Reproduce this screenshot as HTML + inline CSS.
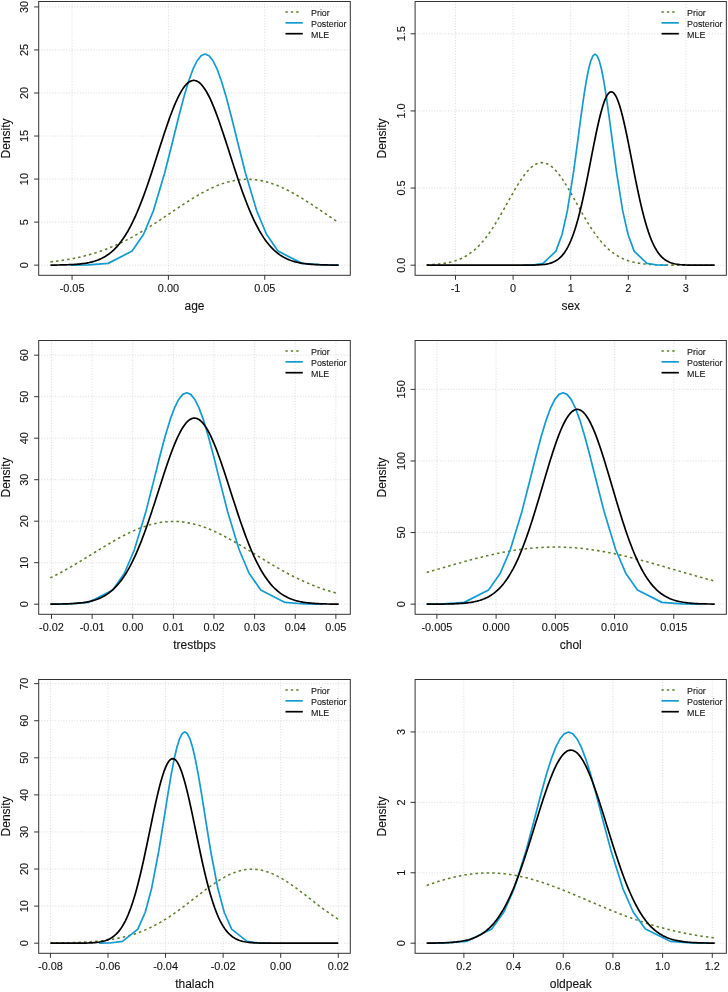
<!DOCTYPE html>
<html><head><meta charset="utf-8"><title>Densities</title><style>
html,body{margin:0;padding:0;background:#fff;overflow:hidden;}
svg{display:block;will-change:transform;}
text{font-family:"Liberation Sans",sans-serif;fill:#111;stroke:#111;stroke-width:0.1px;}
.tl{font-size:10.9px;}
.al{font-size:12.0px;}
.lg{font-size:8.9px;stroke-width:0.08px;}
.gr{stroke:#d3d3d3;stroke-width:0.9;stroke-dasharray:0.9 1.85;fill:none;}
.bx{stroke:#333333;stroke-width:1;fill:none;}
.tk{stroke:#333333;stroke-width:1;}
.pr{stroke:#5f7e2a;stroke-width:1.55;fill:none;stroke-dasharray:2.5 3.1;}
.po{stroke:#129bd2;stroke-width:1.7;fill:none;stroke-linejoin:round;}
.ml{stroke:#000000;stroke-width:1.7;fill:none;stroke-linejoin:round;}
.lpr{stroke:#5f7e2a;stroke-width:1.5;}
.lpo{stroke:#129bd2;stroke-width:1.7;}
.lml{stroke:#000000;stroke-width:1.7;}
</style></head>
<body><svg width="728" height="992" viewBox="0 0 728 992"><rect width="728" height="992" fill="#fff"/><g><line x1="72.05" y1="1.5" x2="72.05" y2="275.3" class="gr"/><line x1="168.4" y1="1.5" x2="168.4" y2="275.3" class="gr"/><line x1="264.75" y1="1.5" x2="264.75" y2="275.3" class="gr"/><line x1="38.7" y1="265.15" x2="350.3" y2="265.15" class="gr"/><line x1="38.7" y1="222.11" x2="350.3" y2="222.11" class="gr"/><line x1="38.7" y1="179.07" x2="350.3" y2="179.07" class="gr"/><line x1="38.7" y1="136.03" x2="350.3" y2="136.03" class="gr"/><line x1="38.7" y1="92.99" x2="350.3" y2="92.99" class="gr"/><line x1="38.7" y1="49.95" x2="350.3" y2="49.95" class="gr"/><line x1="38.7" y1="6.91" x2="350.3" y2="6.91" class="gr"/><path d="M50.47,261.87 L51.91,261.71 L53.35,261.54 L54.79,261.37 L56.23,261.19 L57.67,261 L59.11,260.81 L60.55,260.6 L61.99,260.39 L63.43,260.18 L64.87,259.95 L66.31,259.72 L67.75,259.47 L69.19,259.22 L70.63,258.96 L72.07,258.69 L73.51,258.41 L74.95,258.12 L76.4,257.82 L77.84,257.51 L79.28,257.2 L80.72,256.87 L82.16,256.53 L83.6,256.18 L85.04,255.81 L86.48,255.44 L87.92,255.06 L89.36,254.66 L90.8,254.25 L92.24,253.83 L93.68,253.4 L95.12,252.96 L96.56,252.5 L98,252.03 L99.44,251.55 L100.88,251.05 L102.32,250.55 L103.76,250.03 L105.2,249.49 L106.64,248.95 L108.08,248.39 L109.53,247.82 L110.97,247.23 L112.41,246.63 L113.85,246.02 L115.29,245.39 L116.73,244.75 L118.17,244.1 L119.61,243.43 L121.05,242.75 L122.49,242.06 L123.93,241.35 L125.37,240.63 L126.81,239.9 L128.25,239.16 L129.69,238.4 L131.13,237.63 L132.57,236.85 L134.01,236.06 L135.45,235.25 L136.89,234.43 L138.33,233.6 L139.77,232.76 L141.21,231.91 L142.66,231.05 L144.1,230.18 L145.54,229.3 L146.98,228.41 L148.42,227.51 L149.86,226.61 L151.3,225.69 L152.74,224.77 L154.18,223.84 L155.62,222.9 L157.06,221.96 L158.5,221.01 L159.94,220.05 L161.38,219.1 L162.82,218.13 L164.26,217.17 L165.7,216.2 L167.14,215.23 L168.58,214.26 L170.02,213.28 L171.46,212.31 L172.9,211.34 L174.34,210.37 L175.79,209.4 L177.23,208.43 L178.67,207.47 L180.11,206.51 L181.55,205.55 L182.99,204.6 L184.43,203.66 L185.87,202.73 L187.31,201.8 L188.75,200.88 L190.19,199.97 L191.63,199.07 L193.07,198.19 L194.51,197.31 L195.95,196.45 L197.39,195.6 L198.83,194.76 L200.27,193.94 L201.71,193.13 L203.15,192.34 L204.59,191.57 L206.03,190.82 L207.47,190.08 L208.92,189.36 L210.36,188.66 L211.8,187.99 L213.24,187.33 L214.68,186.7 L216.12,186.09 L217.56,185.5 L219,184.94 L220.44,184.39 L221.88,183.88 L223.32,183.39 L224.76,182.92 L226.2,182.49 L227.64,182.07 L229.08,181.69 L230.52,181.33 L231.96,181 L233.4,180.7 L234.84,180.43 L236.28,180.19 L237.72,179.97 L239.16,179.79 L240.6,179.63 L242.05,179.51 L243.49,179.41 L244.93,179.34 L246.37,179.31 L247.81,179.3 L249.25,179.32 L250.69,179.38 L252.13,179.46 L253.57,179.57 L255.01,179.71 L256.45,179.89 L257.89,180.09 L259.33,180.32 L260.77,180.58 L262.21,180.87 L263.65,181.18 L265.09,181.53 L266.53,181.9 L267.97,182.3 L269.41,182.73 L270.85,183.18 L272.29,183.66 L273.73,184.16 L275.18,184.69 L276.62,185.25 L278.06,185.82 L279.5,186.42 L280.94,187.05 L282.38,187.69 L283.82,188.36 L285.26,189.05 L286.7,189.76 L288.14,190.49 L289.58,191.23 L291.02,192 L292.46,192.78 L293.9,193.58 L295.34,194.39 L296.78,195.22 L298.22,196.07 L299.66,196.92 L301.1,197.79 L302.54,198.68 L303.98,199.57 L305.42,200.48 L306.86,201.39 L308.31,202.31 L309.75,203.25 L311.19,204.18 L312.63,205.13 L314.07,206.08 L315.51,207.04 L316.95,208 L318.39,208.97 L319.83,209.93 L321.27,210.91 L322.71,211.88 L324.15,212.85 L325.59,213.82 L327.03,214.8 L328.47,215.77 L329.91,216.74 L331.35,217.7 L332.79,218.67 L334.23,219.63 L335.67,220.58 L337.11,221.54 L338.55,222.48" class="pr"/><path d="M71.34,265.13 L88.45,264.94 L108.17,263.37 L132.12,251.05 L143.6,234.23 L153.48,210.58 L164.87,172.3 L172.56,141.79 L178.66,117.03 L183.9,97.02 L188.61,81.2 L192.97,69.18 L197.11,60.75 L201.11,55.74 L205.05,54.08 L208.99,55.74 L212.99,60.75 L217.13,69.18 L221.49,81.2 L226.2,97.02 L231.44,117.03 L237.55,141.79 L245.23,172.3 L256.62,210.58 L266.5,234.23 L277.99,251.05 L301.94,263.37 L321.65,264.94 L338.77,265.13" class="po"/><path d="M50.47,265.09 L51.91,265.08 L53.35,265.06 L54.79,265.05 L56.23,265.03 L57.67,265.01 L59.11,264.99 L60.55,264.97 L61.99,264.94 L63.43,264.9 L64.87,264.86 L66.31,264.82 L67.75,264.77 L69.19,264.71 L70.63,264.65 L72.07,264.57 L73.51,264.49 L74.95,264.39 L76.4,264.29 L77.84,264.17 L79.28,264.03 L80.72,263.88 L82.16,263.71 L83.6,263.52 L85.04,263.3 L86.48,263.07 L87.92,262.8 L89.36,262.51 L90.8,262.18 L92.24,261.82 L93.68,261.42 L95.12,260.98 L96.56,260.5 L98,259.96 L99.44,259.38 L100.88,258.74 L102.32,258.04 L103.76,257.28 L105.2,256.45 L106.64,255.55 L108.08,254.57 L109.53,253.51 L110.97,252.37 L112.41,251.13 L113.85,249.81 L115.29,248.38 L116.73,246.85 L118.17,245.21 L119.61,243.47 L121.05,241.6 L122.49,239.62 L123.93,237.52 L125.37,235.29 L126.81,232.93 L128.25,230.45 L129.69,227.83 L131.13,225.08 L132.57,222.19 L134.01,219.18 L135.45,216.03 L136.89,212.75 L138.33,209.34 L139.77,205.8 L141.21,202.15 L142.66,198.37 L144.1,194.49 L145.54,190.5 L146.98,186.41 L148.42,182.23 L149.86,177.97 L151.3,173.64 L152.74,169.26 L154.18,164.82 L155.62,160.34 L157.06,155.85 L158.5,151.34 L159.94,146.85 L161.38,142.37 L162.82,137.93 L164.26,133.54 L165.7,129.22 L167.14,124.98 L168.58,120.85 L170.02,116.83 L171.46,112.95 L172.9,109.22 L174.34,105.65 L175.79,102.27 L177.23,99.09 L178.67,96.11 L180.11,93.36 L181.55,90.85 L182.99,88.59 L184.43,86.58 L185.87,84.85 L187.31,83.39 L188.75,82.22 L190.19,81.34 L191.63,80.75 L193.07,80.46 L194.51,80.46 L195.95,80.77 L197.39,81.37 L198.83,82.26 L200.27,83.45 L201.71,84.92 L203.15,86.67 L204.59,88.68 L206.03,90.95 L207.47,93.48 L208.92,96.24 L210.36,99.22 L211.8,102.41 L213.24,105.8 L214.68,109.38 L216.12,113.11 L217.56,117 L219,121.02 L220.44,125.16 L221.88,129.4 L223.32,133.73 L224.76,138.12 L226.2,142.56 L227.64,147.04 L229.08,151.54 L230.52,156.04 L231.96,160.54 L233.4,165.01 L234.84,169.45 L236.28,173.83 L237.72,178.16 L239.16,182.42 L240.6,186.59 L242.05,190.67 L243.49,194.66 L244.93,198.54 L246.37,202.31 L247.81,205.96 L249.25,209.49 L250.69,212.89 L252.13,216.17 L253.57,219.31 L255.01,222.32 L256.45,225.2 L257.89,227.94 L259.33,230.56 L260.77,233.04 L262.21,235.39 L263.65,237.61 L265.09,239.71 L266.53,241.69 L267.97,243.54 L269.41,245.29 L270.85,246.92 L272.29,248.44 L273.73,249.87 L275.18,251.19 L276.62,252.42 L278.06,253.56 L279.5,254.61 L280.94,255.59 L282.38,256.49 L283.82,257.31 L285.26,258.07 L286.7,258.77 L288.14,259.41 L289.58,259.99 L291.02,260.52 L292.46,261 L293.9,261.44 L295.34,261.84 L296.78,262.19 L298.22,262.52 L299.66,262.81 L301.1,263.08 L302.54,263.31 L303.98,263.53 L305.42,263.72 L306.86,263.89 L308.31,264.04 L309.75,264.17 L311.19,264.29 L312.63,264.4 L314.07,264.49 L315.51,264.58 L316.95,264.65 L318.39,264.72 L319.83,264.77 L321.27,264.82 L322.71,264.87 L324.15,264.9 L325.59,264.94 L327.03,264.97 L328.47,264.99 L329.91,265.02 L331.35,265.03 L332.79,265.05 L334.23,265.07 L335.67,265.08 L337.11,265.09 L338.55,265.1" class="ml"/><rect x="38.7" y="1.5" width="311.6" height="273.8" class="bx"/><line x1="72.05" y1="275.3" x2="72.05" y2="279.8" class="tk"/><text x="72.05" y="291.9" class="tl" text-anchor="middle">-0.05</text><line x1="168.4" y1="275.3" x2="168.4" y2="279.8" class="tk"/><text x="168.4" y="291.9" class="tl" text-anchor="middle">0.00</text><line x1="264.75" y1="275.3" x2="264.75" y2="279.8" class="tk"/><text x="264.75" y="291.9" class="tl" text-anchor="middle">0.05</text><line x1="34.2" y1="265.15" x2="38.7" y2="265.15" class="tk"/><text transform="translate(28.1,265.15) rotate(-90)" class="tl" text-anchor="middle">0</text><line x1="34.2" y1="222.11" x2="38.7" y2="222.11" class="tk"/><text transform="translate(28.1,222.11) rotate(-90)" class="tl" text-anchor="middle">5</text><line x1="34.2" y1="179.07" x2="38.7" y2="179.07" class="tk"/><text transform="translate(28.1,179.07) rotate(-90)" class="tl" text-anchor="middle">10</text><line x1="34.2" y1="136.03" x2="38.7" y2="136.03" class="tk"/><text transform="translate(28.1,136.03) rotate(-90)" class="tl" text-anchor="middle">15</text><line x1="34.2" y1="92.99" x2="38.7" y2="92.99" class="tk"/><text transform="translate(28.1,92.99) rotate(-90)" class="tl" text-anchor="middle">20</text><line x1="34.2" y1="49.95" x2="38.7" y2="49.95" class="tk"/><text transform="translate(28.1,49.95) rotate(-90)" class="tl" text-anchor="middle">25</text><line x1="34.2" y1="6.91" x2="38.7" y2="6.91" class="tk"/><text transform="translate(28.1,6.91) rotate(-90)" class="tl" text-anchor="middle">30</text><text x="194.5" y="309.8" class="al" text-anchor="middle">age</text><text transform="translate(9.8,138.4) rotate(-90)" class="al" text-anchor="middle">Density</text><line x1="285.4" y1="12" x2="287.8" y2="12" class="lpr"/><line x1="290.8" y1="12" x2="293.2" y2="12" class="lpr"/><line x1="296.2" y1="12" x2="298.6" y2="12" class="lpr"/><text x="311" y="15.9" class="lg">Prior</text><line x1="285.5" y1="22.85" x2="302.8" y2="22.85" class="lpo"/><text x="311" y="26.8" class="lg">Posterior</text><line x1="285.5" y1="33.7" x2="302.8" y2="33.7" class="lml"/><text x="311" y="37.7" class="lg">MLE</text></g><g><line x1="455.5" y1="1.5" x2="455.5" y2="275.3" class="gr"/><line x1="513.1" y1="1.5" x2="513.1" y2="275.3" class="gr"/><line x1="570.7" y1="1.5" x2="570.7" y2="275.3" class="gr"/><line x1="628.3" y1="1.5" x2="628.3" y2="275.3" class="gr"/><line x1="685.9" y1="1.5" x2="685.9" y2="275.3" class="gr"/><line x1="415.1" y1="265.2" x2="726.35" y2="265.2" class="gr"/><line x1="415.1" y1="188.06" x2="726.35" y2="188.06" class="gr"/><line x1="415.1" y1="110.93" x2="726.35" y2="110.93" class="gr"/><line x1="415.1" y1="33.79" x2="726.35" y2="33.79" class="gr"/><path d="M426.7,264.8 L428.14,264.74 L429.58,264.68 L431.02,264.6 L432.46,264.52 L433.9,264.42 L435.34,264.32 L436.78,264.2 L438.22,264.06 L439.66,263.91 L441.1,263.74 L442.54,263.55 L443.98,263.35 L445.42,263.12 L446.86,262.86 L448.3,262.58 L449.74,262.27 L451.18,261.93 L452.62,261.55 L454.06,261.14 L455.5,260.69 L456.94,260.2 L458.38,259.67 L459.82,259.09 L461.26,258.46 L462.7,257.78 L464.14,257.04 L465.58,256.24 L467.02,255.39 L468.46,254.47 L469.9,253.49 L471.34,252.44 L472.78,251.32 L474.22,250.12 L475.66,248.86 L477.1,247.51 L478.54,246.09 L479.98,244.59 L481.42,243.02 L482.86,241.36 L484.3,239.62 L485.74,237.81 L487.18,235.91 L488.62,233.94 L490.06,231.9 L491.5,229.78 L492.94,227.6 L494.38,225.34 L495.82,223.03 L497.26,220.66 L498.7,218.24 L500.14,215.77 L501.58,213.26 L503.02,210.72 L504.46,208.16 L505.9,205.58 L507.34,202.99 L508.78,200.39 L510.22,197.81 L511.66,195.25 L513.1,192.72 L514.54,190.22 L515.98,187.77 L517.42,185.38 L518.86,183.06 L520.3,180.82 L521.74,178.67 L523.18,176.62 L524.62,174.68 L526.06,172.85 L527.5,171.15 L528.94,169.59 L530.38,168.17 L531.82,166.9 L533.26,165.78 L534.7,164.83 L536.14,164.04 L537.58,163.42 L539.02,162.98 L540.46,162.71 L541.9,162.63 L543.34,162.71 L544.78,162.98 L546.22,163.42 L547.66,164.04 L549.1,164.83 L550.54,165.78 L551.98,166.9 L553.42,168.17 L554.86,169.59 L556.3,171.15 L557.74,172.85 L559.18,174.68 L560.62,176.62 L562.06,178.67 L563.5,180.82 L564.94,183.06 L566.38,185.38 L567.82,187.77 L569.26,190.22 L570.7,192.72 L572.14,195.25 L573.58,197.81 L575.02,200.39 L576.46,202.99 L577.9,205.58 L579.34,208.16 L580.78,210.72 L582.22,213.26 L583.66,215.77 L585.1,218.24 L586.54,220.66 L587.98,223.03 L589.42,225.34 L590.86,227.6 L592.3,229.78 L593.74,231.9 L595.18,233.94 L596.62,235.91 L598.06,237.81 L599.5,239.62 L600.94,241.36 L602.38,243.02 L603.82,244.59 L605.26,246.09 L606.7,247.51 L608.14,248.86 L609.58,250.12 L611.02,251.32 L612.46,252.44 L613.9,253.49 L615.34,254.47 L616.78,255.39 L618.22,256.24 L619.66,257.04 L621.1,257.78 L622.54,258.46 L623.98,259.09 L625.42,259.67 L626.86,260.2 L628.3,260.69 L629.74,261.14 L631.18,261.55 L632.62,261.93 L634.06,262.27 L635.5,262.58 L636.94,262.86 L638.38,263.12 L639.82,263.35 L641.26,263.55 L642.7,263.74 L644.14,263.91 L645.58,264.06 L647.02,264.2 L648.46,264.32 L649.9,264.42 L651.34,264.52 L652.78,264.6 L654.22,264.68 L655.66,264.74 L657.1,264.8 L658.54,264.86 L659.98,264.9 L661.42,264.94 L662.86,264.98 L664.3,265.01 L665.74,265.03 L667.18,265.06 L668.62,265.08 L670.06,265.09 L671.5,265.11 L672.94,265.12 L674.38,265.13 L675.82,265.14 L677.26,265.15 L678.7,265.16 L680.14,265.17 L681.58,265.17 L683.02,265.18 L684.46,265.18 L685.9,265.18 L687.34,265.19 L688.78,265.19 L690.22,265.19 L691.66,265.19 L693.1,265.19 L694.54,265.19 L695.98,265.2 L697.42,265.2 L698.86,265.2 L700.3,265.2 L701.74,265.2 L703.18,265.2 L704.62,265.2 L706.06,265.2 L707.5,265.2 L708.94,265.2 L710.38,265.2 L711.82,265.2 L713.26,265.2 L714.7,265.2" class="pr"/><path d="M523.38,265.18 L532.55,264.99 L543.12,263.42 L555.95,251.1 L562.1,234.29 L567.4,210.65 L573.5,172.37 L577.62,141.87 L580.89,117.12 L583.7,97.12 L586.22,81.29 L588.56,69.28 L590.77,60.85 L592.92,55.84 L595.03,54.18 L597.14,55.84 L599.29,60.85 L601.5,69.28 L603.84,81.29 L606.36,97.12 L609.17,117.12 L612.44,141.87 L616.56,172.37 L622.66,210.65 L627.96,234.29 L634.11,251.1 L646.94,263.42 L657.51,264.99 L666.68,265.18" class="po"/><path d="M426.7,265.2 L428.14,265.2 L429.58,265.2 L431.02,265.2 L432.46,265.2 L433.9,265.2 L435.34,265.2 L436.78,265.2 L438.22,265.2 L439.66,265.2 L441.1,265.2 L442.54,265.2 L443.98,265.2 L445.42,265.2 L446.86,265.2 L448.3,265.2 L449.74,265.2 L451.18,265.2 L452.62,265.2 L454.06,265.2 L455.5,265.2 L456.94,265.2 L458.38,265.2 L459.82,265.2 L461.26,265.2 L462.7,265.2 L464.14,265.2 L465.58,265.2 L467.02,265.2 L468.46,265.2 L469.9,265.2 L471.34,265.2 L472.78,265.2 L474.22,265.2 L475.66,265.2 L477.1,265.2 L478.54,265.2 L479.98,265.2 L481.42,265.2 L482.86,265.2 L484.3,265.2 L485.74,265.2 L487.18,265.2 L488.62,265.2 L490.06,265.2 L491.5,265.2 L492.94,265.2 L494.38,265.2 L495.82,265.2 L497.26,265.2 L498.7,265.2 L500.14,265.2 L501.58,265.2 L503.02,265.2 L504.46,265.2 L505.9,265.2 L507.34,265.2 L508.78,265.2 L510.22,265.2 L511.66,265.2 L513.1,265.2 L514.54,265.2 L515.98,265.2 L517.42,265.2 L518.86,265.19 L520.3,265.19 L521.74,265.19 L523.18,265.18 L524.62,265.18 L526.06,265.17 L527.5,265.16 L528.94,265.15 L530.38,265.13 L531.82,265.11 L533.26,265.08 L534.7,265.04 L536.14,265 L537.58,264.94 L539.02,264.86 L540.46,264.77 L541.9,264.65 L543.34,264.51 L544.78,264.33 L546.22,264.1 L547.66,263.83 L549.1,263.5 L550.54,263.1 L551.98,262.62 L553.42,262.04 L554.86,261.35 L556.3,260.54 L557.74,259.58 L559.18,258.45 L560.62,257.15 L562.06,255.64 L563.5,253.9 L564.94,251.91 L566.38,249.64 L567.82,247.08 L569.26,244.21 L570.7,241 L572.14,237.44 L573.58,233.51 L575.02,229.2 L576.46,224.51 L577.9,219.44 L579.34,213.99 L580.78,208.18 L582.22,202.02 L583.66,195.54 L585.1,188.77 L586.54,181.77 L587.98,174.57 L589.42,167.24 L590.86,159.84 L592.3,152.44 L593.74,145.12 L595.18,137.96 L596.62,131.04 L598.06,124.45 L599.5,118.26 L600.94,112.55 L602.38,107.41 L603.82,102.91 L605.26,99.1 L606.7,96.05 L608.14,93.79 L609.58,92.36 L611.02,91.78 L612.46,92.07 L613.9,93.2 L615.34,95.18 L616.78,97.96 L618.22,101.52 L619.66,105.79 L621.1,110.72 L622.54,116.24 L623.98,122.27 L625.42,128.73 L626.86,135.55 L628.3,142.64 L629.74,149.91 L631.18,157.29 L632.62,164.7 L634.06,172.06 L635.5,179.31 L636.94,186.39 L638.38,193.24 L639.82,199.82 L641.26,206.1 L642.7,212.03 L644.14,217.61 L645.58,222.81 L647.02,227.63 L648.46,232.07 L649.9,236.13 L651.34,239.82 L652.78,243.15 L654.22,246.13 L655.66,248.8 L657.1,251.16 L658.54,253.24 L659.98,255.06 L661.42,256.65 L662.86,258.03 L664.3,259.21 L665.74,260.22 L667.18,261.08 L668.62,261.81 L670.06,262.43 L671.5,262.94 L672.94,263.37 L674.38,263.72 L675.82,264.02 L677.26,264.25 L678.7,264.45 L680.14,264.61 L681.58,264.73 L683.02,264.83 L684.46,264.91 L685.9,264.98 L687.34,265.03 L688.78,265.07 L690.22,265.1 L691.66,265.12 L693.1,265.14 L694.54,265.16 L695.98,265.17 L697.42,265.18 L698.86,265.18 L700.3,265.19 L701.74,265.19 L703.18,265.19 L704.62,265.19 L706.06,265.2 L707.5,265.2 L708.94,265.2 L710.38,265.2 L711.82,265.2 L713.26,265.2 L714.7,265.2" class="ml"/><rect x="415.1" y="1.5" width="311.25" height="273.8" class="bx"/><line x1="455.5" y1="275.3" x2="455.5" y2="279.8" class="tk"/><text x="455.5" y="291.9" class="tl" text-anchor="middle">-1</text><line x1="513.1" y1="275.3" x2="513.1" y2="279.8" class="tk"/><text x="513.1" y="291.9" class="tl" text-anchor="middle">0</text><line x1="570.7" y1="275.3" x2="570.7" y2="279.8" class="tk"/><text x="570.7" y="291.9" class="tl" text-anchor="middle">1</text><line x1="628.3" y1="275.3" x2="628.3" y2="279.8" class="tk"/><text x="628.3" y="291.9" class="tl" text-anchor="middle">2</text><line x1="685.9" y1="275.3" x2="685.9" y2="279.8" class="tk"/><text x="685.9" y="291.9" class="tl" text-anchor="middle">3</text><line x1="410.6" y1="265.2" x2="415.1" y2="265.2" class="tk"/><text transform="translate(404.5,265.2) rotate(-90)" class="tl" text-anchor="middle">0.0</text><line x1="410.6" y1="188.06" x2="415.1" y2="188.06" class="tk"/><text transform="translate(404.5,188.06) rotate(-90)" class="tl" text-anchor="middle">0.5</text><line x1="410.6" y1="110.93" x2="415.1" y2="110.93" class="tk"/><text transform="translate(404.5,110.93) rotate(-90)" class="tl" text-anchor="middle">1.0</text><line x1="410.6" y1="33.79" x2="415.1" y2="33.79" class="tk"/><text transform="translate(404.5,33.79) rotate(-90)" class="tl" text-anchor="middle">1.5</text><text x="570.73" y="309.8" class="al" text-anchor="middle">sex</text><text transform="translate(386.2,138.4) rotate(-90)" class="al" text-anchor="middle">Density</text><line x1="661.45" y1="12" x2="663.85" y2="12" class="lpr"/><line x1="666.85" y1="12" x2="669.25" y2="12" class="lpr"/><line x1="672.25" y1="12" x2="674.65" y2="12" class="lpr"/><text x="687.05" y="15.9" class="lg">Prior</text><line x1="661.55" y1="22.85" x2="678.85" y2="22.85" class="lpo"/><text x="687.05" y="26.8" class="lg">Posterior</text><line x1="661.55" y1="33.7" x2="678.85" y2="33.7" class="lml"/><text x="687.05" y="37.7" class="lg">MLE</text></g><g><line x1="51.51" y1="340.5" x2="51.51" y2="614.3" class="gr"/><line x1="92.13" y1="340.5" x2="92.13" y2="614.3" class="gr"/><line x1="132.75" y1="340.5" x2="132.75" y2="614.3" class="gr"/><line x1="173.37" y1="340.5" x2="173.37" y2="614.3" class="gr"/><line x1="213.99" y1="340.5" x2="213.99" y2="614.3" class="gr"/><line x1="254.61" y1="340.5" x2="254.61" y2="614.3" class="gr"/><line x1="295.23" y1="340.5" x2="295.23" y2="614.3" class="gr"/><line x1="335.85" y1="340.5" x2="335.85" y2="614.3" class="gr"/><line x1="38.7" y1="604.2" x2="350.3" y2="604.2" class="gr"/><line x1="38.7" y1="562.7" x2="350.3" y2="562.7" class="gr"/><line x1="38.7" y1="521.2" x2="350.3" y2="521.2" class="gr"/><line x1="38.7" y1="479.7" x2="350.3" y2="479.7" class="gr"/><line x1="38.7" y1="438.2" x2="350.3" y2="438.2" class="gr"/><line x1="38.7" y1="396.7" x2="350.3" y2="396.7" class="gr"/><line x1="38.7" y1="355.2" x2="350.3" y2="355.2" class="gr"/><path d="M50.29,577.93 L51.73,577.21 L53.18,576.49 L54.62,575.76 L56.06,575.02 L57.5,574.26 L58.94,573.5 L60.39,572.73 L61.83,571.95 L63.27,571.16 L64.71,570.36 L66.15,569.55 L67.6,568.73 L69.04,567.91 L70.48,567.08 L71.92,566.24 L73.36,565.4 L74.81,564.55 L76.25,563.69 L77.69,562.83 L79.13,561.96 L80.57,561.09 L82.02,560.21 L83.46,559.33 L84.9,558.45 L86.34,557.56 L87.78,556.67 L89.23,555.79 L90.67,554.89 L92.11,554 L93.55,553.11 L94.99,552.22 L96.44,551.33 L97.88,550.44 L99.32,549.56 L100.76,548.68 L102.2,547.8 L103.65,546.92 L105.09,546.05 L106.53,545.19 L107.97,544.33 L109.41,543.48 L110.86,542.63 L112.3,541.8 L113.74,540.97 L115.18,540.15 L116.62,539.34 L118.07,538.54 L119.51,537.75 L120.95,536.98 L122.39,536.21 L123.83,535.46 L125.28,534.73 L126.72,534 L128.16,533.29 L129.6,532.6 L131.04,531.93 L132.49,531.27 L133.93,530.62 L135.37,530 L136.81,529.39 L138.25,528.8 L139.7,528.23 L141.14,527.68 L142.58,527.16 L144.02,526.65 L145.46,526.16 L146.91,525.7 L148.35,525.25 L149.79,524.83 L151.23,524.44 L152.67,524.06 L154.12,523.71 L155.56,523.39 L157,523.08 L158.44,522.81 L159.88,522.55 L161.33,522.32 L162.77,522.12 L164.21,521.94 L165.65,521.79 L167.09,521.67 L168.54,521.57 L169.98,521.49 L171.42,521.44 L172.86,521.42 L174.3,521.42 L175.75,521.45 L177.19,521.51 L178.63,521.59 L180.07,521.7 L181.51,521.83 L182.96,521.99 L184.4,522.18 L185.84,522.39 L187.28,522.62 L188.72,522.88 L190.17,523.17 L191.61,523.48 L193.05,523.81 L194.49,524.17 L195.93,524.55 L197.38,524.96 L198.82,525.38 L200.26,525.83 L201.7,526.3 L203.14,526.8 L204.59,527.31 L206.03,527.85 L207.47,528.4 L208.91,528.97 L210.35,529.57 L211.8,530.18 L213.24,530.81 L214.68,531.46 L216.12,532.12 L217.56,532.81 L219.01,533.5 L220.45,534.21 L221.89,534.94 L223.33,535.68 L224.77,536.44 L226.22,537.21 L227.66,537.98 L229.1,538.78 L230.54,539.58 L231.98,540.39 L233.43,541.21 L234.87,542.04 L236.31,542.88 L237.75,543.73 L239.19,544.58 L240.64,545.44 L242.08,546.31 L243.52,547.18 L244.96,548.06 L246.4,548.94 L247.85,549.82 L249.29,550.71 L250.73,551.6 L252.17,552.49 L253.61,553.38 L255.06,554.27 L256.5,555.16 L257.94,556.05 L259.38,556.94 L260.82,557.82 L262.27,558.71 L263.71,559.59 L265.15,560.47 L266.59,561.35 L268.03,562.22 L269.48,563.08 L270.92,563.94 L272.36,564.8 L273.8,565.65 L275.24,566.49 L276.69,567.33 L278.13,568.15 L279.57,568.98 L281.01,569.79 L282.46,570.59 L283.9,571.39 L285.34,572.18 L286.78,572.96 L288.22,573.73 L289.67,574.49 L291.11,575.24 L292.55,575.98 L293.99,576.71 L295.43,577.43 L296.88,578.13 L298.32,578.83 L299.76,579.52 L301.2,580.2 L302.64,580.86 L304.09,581.51 L305.53,582.16 L306.97,582.79 L308.41,583.41 L309.85,584.01 L311.3,584.61 L312.74,585.19 L314.18,585.77 L315.62,586.33 L317.06,586.88 L318.51,587.42 L319.95,587.94 L321.39,588.46 L322.83,588.96 L324.27,589.45 L325.72,589.93 L327.16,590.4 L328.6,590.86 L330.04,591.31 L331.48,591.74 L332.93,592.17 L334.37,592.58 L335.81,592.99 L337.25,593.38 L338.69,593.76" class="pr"/><path d="M51.12,604.18 L68.48,603.99 L88.48,602.42 L112.77,590.07 L124.42,573.22 L134.44,549.53 L146,511.17 L153.79,480.61 L159.99,455.8 L165.3,435.75 L170.07,419.89 L174.5,407.86 L178.69,399.41 L182.75,394.39 L186.75,392.73 L190.75,394.39 L194.81,399.41 L199,407.86 L203.43,419.89 L208.2,435.75 L213.51,455.8 L219.71,480.61 L227.51,511.17 L239.06,549.53 L249.08,573.22 L260.73,590.07 L285.02,602.42 L305.02,603.99 L322.38,604.18" class="po"/><path d="M50.29,604.14 L51.73,604.12 L53.18,604.11 L54.62,604.1 L56.06,604.08 L57.5,604.06 L58.94,604.04 L60.39,604.01 L61.83,603.98 L63.27,603.94 L64.71,603.91 L66.15,603.86 L67.6,603.81 L69.04,603.75 L70.48,603.68 L71.92,603.61 L73.36,603.52 L74.81,603.43 L76.25,603.32 L77.69,603.2 L79.13,603.06 L80.57,602.9 L82.02,602.73 L83.46,602.54 L84.9,602.32 L86.34,602.09 L87.78,601.82 L89.23,601.52 L90.67,601.2 L92.11,600.83 L93.55,600.43 L94.99,599.99 L96.44,599.51 L97.88,598.97 L99.32,598.39 L100.76,597.75 L102.2,597.06 L103.65,596.3 L105.09,595.47 L106.53,594.57 L107.97,593.6 L109.41,592.54 L110.86,591.4 L112.3,590.18 L113.74,588.86 L115.18,587.44 L116.62,585.92 L118.07,584.29 L119.51,582.56 L120.95,580.71 L122.39,578.74 L123.83,576.66 L125.28,574.44 L126.72,572.11 L128.16,569.64 L129.6,567.04 L131.04,564.32 L132.49,561.46 L133.93,558.46 L135.37,555.34 L136.81,552.09 L138.25,548.7 L139.7,545.2 L141.14,541.57 L142.58,537.82 L144.02,533.96 L145.46,529.99 L146.91,525.93 L148.35,521.77 L149.79,517.53 L151.23,513.22 L152.67,508.85 L154.12,504.42 L155.56,499.96 L157,495.47 L158.44,490.96 L159.88,486.46 L161.33,481.98 L162.77,477.52 L164.21,473.11 L165.65,468.76 L167.09,464.5 L168.54,460.32 L169.98,456.26 L171.42,452.32 L172.86,448.53 L174.3,444.9 L175.75,441.44 L177.19,438.18 L178.63,435.11 L180.07,432.27 L181.51,429.65 L182.96,427.28 L184.4,425.16 L185.84,423.3 L187.28,421.71 L188.72,420.41 L190.17,419.38 L191.61,418.65 L193.05,418.21 L194.49,418.07 L195.93,418.23 L197.38,418.68 L198.82,419.42 L200.26,420.45 L201.7,421.77 L203.14,423.37 L204.59,425.23 L206.03,427.37 L207.47,429.75 L208.91,432.37 L210.35,435.23 L211.8,438.3 L213.24,441.58 L214.68,445.04 L216.12,448.68 L217.56,452.48 L219.01,456.42 L220.45,460.48 L221.89,464.66 L223.33,468.93 L224.77,473.28 L226.22,477.69 L227.66,482.15 L229.1,486.64 L230.54,491.14 L231.98,495.65 L233.43,500.14 L234.87,504.6 L236.31,509.02 L237.75,513.39 L239.19,517.7 L240.64,521.94 L242.08,526.09 L243.52,530.15 L244.96,534.11 L246.4,537.97 L247.85,541.71 L249.29,545.34 L250.73,548.84 L252.17,552.22 L253.61,555.47 L255.06,558.58 L256.5,561.57 L257.94,564.43 L259.38,567.15 L260.82,569.74 L262.27,572.2 L263.71,574.53 L265.15,576.74 L266.59,578.82 L268.03,580.78 L269.48,582.63 L270.92,584.36 L272.36,585.98 L273.8,587.5 L275.24,588.91 L276.69,590.23 L278.13,591.45 L279.57,592.59 L281.01,593.64 L282.46,594.61 L283.9,595.5 L285.34,596.33 L286.78,597.08 L288.22,597.78 L289.67,598.42 L291.11,599 L292.55,599.53 L293.99,600.01 L295.43,600.45 L296.88,600.85 L298.32,601.21 L299.76,601.54 L301.2,601.83 L302.64,602.1 L304.09,602.33 L305.53,602.55 L306.97,602.74 L308.41,602.91 L309.85,603.06 L311.3,603.2 L312.74,603.32 L314.18,603.43 L315.62,603.53 L317.06,603.61 L318.51,603.69 L319.95,603.75 L321.39,603.81 L322.83,603.86 L324.27,603.91 L325.72,603.95 L327.16,603.98 L328.6,604.01 L330.04,604.04 L331.48,604.06 L332.93,604.08 L334.37,604.1 L335.81,604.11 L337.25,604.12 L338.69,604.14" class="ml"/><rect x="38.7" y="340.5" width="311.6" height="273.8" class="bx"/><line x1="51.51" y1="614.3" x2="51.51" y2="618.8" class="tk"/><text x="51.51" y="630.9" class="tl" text-anchor="middle">-0.02</text><line x1="92.13" y1="614.3" x2="92.13" y2="618.8" class="tk"/><text x="92.13" y="630.9" class="tl" text-anchor="middle">-0.01</text><line x1="132.75" y1="614.3" x2="132.75" y2="618.8" class="tk"/><text x="132.75" y="630.9" class="tl" text-anchor="middle">0.00</text><line x1="173.37" y1="614.3" x2="173.37" y2="618.8" class="tk"/><text x="173.37" y="630.9" class="tl" text-anchor="middle">0.01</text><line x1="213.99" y1="614.3" x2="213.99" y2="618.8" class="tk"/><text x="213.99" y="630.9" class="tl" text-anchor="middle">0.02</text><line x1="254.61" y1="614.3" x2="254.61" y2="618.8" class="tk"/><text x="254.61" y="630.9" class="tl" text-anchor="middle">0.03</text><line x1="295.23" y1="614.3" x2="295.23" y2="618.8" class="tk"/><text x="295.23" y="630.9" class="tl" text-anchor="middle">0.04</text><line x1="335.85" y1="614.3" x2="335.85" y2="618.8" class="tk"/><text x="335.85" y="630.9" class="tl" text-anchor="middle">0.05</text><line x1="34.2" y1="604.2" x2="38.7" y2="604.2" class="tk"/><text transform="translate(28.1,604.2) rotate(-90)" class="tl" text-anchor="middle">0</text><line x1="34.2" y1="562.7" x2="38.7" y2="562.7" class="tk"/><text transform="translate(28.1,562.7) rotate(-90)" class="tl" text-anchor="middle">10</text><line x1="34.2" y1="521.2" x2="38.7" y2="521.2" class="tk"/><text transform="translate(28.1,521.2) rotate(-90)" class="tl" text-anchor="middle">20</text><line x1="34.2" y1="479.7" x2="38.7" y2="479.7" class="tk"/><text transform="translate(28.1,479.7) rotate(-90)" class="tl" text-anchor="middle">30</text><line x1="34.2" y1="438.2" x2="38.7" y2="438.2" class="tk"/><text transform="translate(28.1,438.2) rotate(-90)" class="tl" text-anchor="middle">40</text><line x1="34.2" y1="396.7" x2="38.7" y2="396.7" class="tk"/><text transform="translate(28.1,396.7) rotate(-90)" class="tl" text-anchor="middle">50</text><line x1="34.2" y1="355.2" x2="38.7" y2="355.2" class="tk"/><text transform="translate(28.1,355.2) rotate(-90)" class="tl" text-anchor="middle">60</text><text x="194.5" y="648.8" class="al" text-anchor="middle">trestbps</text><text transform="translate(9.8,477.4) rotate(-90)" class="al" text-anchor="middle">Density</text><line x1="285.4" y1="351" x2="287.8" y2="351" class="lpr"/><line x1="290.8" y1="351" x2="293.2" y2="351" class="lpr"/><line x1="296.2" y1="351" x2="298.6" y2="351" class="lpr"/><text x="311" y="354.9" class="lg">Prior</text><line x1="285.5" y1="361.85" x2="302.8" y2="361.85" class="lpo"/><text x="311" y="365.8" class="lg">Posterior</text><line x1="285.5" y1="372.7" x2="302.8" y2="372.7" class="lml"/><text x="311" y="376.7" class="lg">MLE</text></g><g><line x1="436.88" y1="340.5" x2="436.88" y2="614.3" class="gr"/><line x1="496.1" y1="340.5" x2="496.1" y2="614.3" class="gr"/><line x1="555.33" y1="340.5" x2="555.33" y2="614.3" class="gr"/><line x1="614.55" y1="340.5" x2="614.55" y2="614.3" class="gr"/><line x1="673.77" y1="340.5" x2="673.77" y2="614.3" class="gr"/><line x1="415.1" y1="604.15" x2="726.35" y2="604.15" class="gr"/><line x1="415.1" y1="532.56" x2="726.35" y2="532.56" class="gr"/><line x1="415.1" y1="460.98" x2="726.35" y2="460.98" class="gr"/><line x1="415.1" y1="389.39" x2="726.35" y2="389.39" class="gr"/><path d="M426.69,572.48 L428.13,572.06 L429.57,571.64 L431.01,571.22 L432.45,570.8 L433.89,570.38 L435.33,569.96 L436.77,569.54 L438.21,569.12 L439.65,568.7 L441.09,568.27 L442.53,567.85 L443.97,567.43 L445.41,567.01 L446.85,566.6 L448.29,566.18 L449.73,565.76 L451.17,565.35 L452.61,564.93 L454.05,564.52 L455.5,564.11 L456.94,563.7 L458.38,563.29 L459.82,562.88 L461.26,562.48 L462.7,562.08 L464.14,561.68 L465.58,561.29 L467.02,560.89 L468.46,560.5 L469.9,560.11 L471.34,559.73 L472.78,559.35 L474.22,558.97 L475.66,558.59 L477.1,558.22 L478.54,557.86 L479.98,557.49 L481.42,557.14 L482.86,556.78 L484.3,556.43 L485.74,556.09 L487.18,555.74 L488.62,555.41 L490.06,555.08 L491.5,554.75 L492.94,554.43 L494.38,554.11 L495.83,553.8 L497.27,553.5 L498.71,553.2 L500.15,552.91 L501.59,552.62 L503.03,552.34 L504.47,552.06 L505.91,551.79 L507.35,551.53 L508.79,551.28 L510.23,551.03 L511.67,550.78 L513.11,550.55 L514.55,550.32 L515.99,550.1 L517.43,549.88 L518.87,549.68 L520.31,549.48 L521.75,549.28 L523.19,549.1 L524.63,548.92 L526.07,548.75 L527.51,548.59 L528.95,548.43 L530.39,548.28 L531.83,548.15 L533.27,548.01 L534.71,547.89 L536.16,547.78 L537.6,547.67 L539.04,547.57 L540.48,547.48 L541.92,547.4 L543.36,547.32 L544.8,547.26 L546.24,547.2 L547.68,547.15 L549.12,547.11 L550.56,547.08 L552,547.06 L553.44,547.04 L554.88,547.03 L556.32,547.04 L557.76,547.05 L559.2,547.06 L560.64,547.09 L562.08,547.13 L563.52,547.17 L564.96,547.22 L566.4,547.28 L567.84,547.35 L569.28,547.43 L570.72,547.51 L572.16,547.61 L573.6,547.71 L575.04,547.82 L576.48,547.94 L577.93,548.06 L579.37,548.2 L580.81,548.34 L582.25,548.49 L583.69,548.65 L585.13,548.81 L586.57,548.99 L588.01,549.17 L589.45,549.35 L590.89,549.55 L592.33,549.75 L593.77,549.96 L595.21,550.18 L596.65,550.41 L598.09,550.64 L599.53,550.88 L600.97,551.12 L602.41,551.37 L603.85,551.63 L605.29,551.9 L606.73,552.17 L608.17,552.44 L609.61,552.73 L611.05,553.02 L612.49,553.31 L613.93,553.61 L615.37,553.92 L616.81,554.23 L618.26,554.55 L619.7,554.87 L621.14,555.2 L622.58,555.54 L624.02,555.87 L625.46,556.22 L626.9,556.56 L628.34,556.92 L629.78,557.27 L631.22,557.63 L632.66,558 L634.1,558.37 L635.54,558.74 L636.98,559.11 L638.42,559.49 L639.86,559.87 L641.3,560.26 L642.74,560.65 L644.18,561.04 L645.62,561.44 L647.06,561.83 L648.5,562.23 L649.94,562.64 L651.38,563.04 L652.82,563.45 L654.26,563.85 L655.7,564.26 L657.14,564.68 L658.58,565.09 L660.03,565.5 L661.47,565.92 L662.91,566.34 L664.35,566.76 L665.79,567.17 L667.23,567.59 L668.67,568.01 L670.11,568.43 L671.55,568.86 L672.99,569.28 L674.43,569.7 L675.87,570.12 L677.31,570.54 L678.75,570.96 L680.19,571.38 L681.63,571.8 L683.07,572.22 L684.51,572.64 L685.95,573.06 L687.39,573.47 L688.83,573.89 L690.27,574.3 L691.71,574.71 L693.15,575.13 L694.59,575.54 L696.03,575.94 L697.47,576.35 L698.91,576.76 L700.36,577.16 L701.8,577.56 L703.24,577.96 L704.68,578.35 L706.12,578.75 L707.56,579.14 L709,579.53 L710.44,579.92 L711.88,580.3 L713.32,580.68 L714.76,581.06" class="pr"/><path d="M426.55,604.13 L444.01,603.94 L464.13,602.37 L488.57,590.02 L500.29,573.17 L510.37,549.48 L522,511.13 L529.84,480.57 L536.07,455.76 L541.42,435.71 L546.22,419.86 L550.67,407.82 L554.89,399.37 L558.98,394.36 L563,392.69 L567.02,394.36 L571.11,399.37 L575.33,407.82 L579.78,419.86 L584.58,435.71 L589.93,455.76 L596.16,480.57 L604,511.13 L615.63,549.48 L625.71,573.17 L637.43,590.02 L661.87,602.37 L681.99,603.94 L699.45,604.13" class="po"/><path d="M426.69,604.13 L428.13,604.13 L429.57,604.13 L431.01,604.12 L432.45,604.12 L433.89,604.11 L435.33,604.1 L436.77,604.1 L438.21,604.09 L439.65,604.07 L441.09,604.06 L442.53,604.04 L443.97,604.03 L445.41,604.01 L446.85,603.98 L448.29,603.95 L449.73,603.92 L451.17,603.88 L452.61,603.84 L454.05,603.79 L455.5,603.73 L456.94,603.67 L458.38,603.59 L459.82,603.51 L461.26,603.41 L462.7,603.31 L464.14,603.18 L465.58,603.04 L467.02,602.89 L468.46,602.71 L469.9,602.51 L471.34,602.29 L472.78,602.04 L474.22,601.76 L475.66,601.45 L477.1,601.11 L478.54,600.72 L479.98,600.3 L481.42,599.83 L482.86,599.31 L484.3,598.74 L485.74,598.1 L487.18,597.41 L488.62,596.65 L490.06,595.82 L491.5,594.92 L492.94,593.93 L494.38,592.86 L495.83,591.7 L497.27,590.44 L498.71,589.07 L500.15,587.61 L501.59,586.03 L503.03,584.33 L504.47,582.51 L505.91,580.56 L507.35,578.49 L508.79,576.28 L510.23,573.93 L511.67,571.44 L513.11,568.81 L514.55,566.02 L515.99,563.09 L517.43,560.02 L518.87,556.79 L520.31,553.41 L521.75,549.89 L523.19,546.22 L524.63,542.41 L526.07,538.46 L527.51,534.38 L528.95,530.17 L530.39,525.84 L531.83,521.41 L533.27,516.87 L534.71,512.24 L536.16,507.53 L537.6,502.76 L539.04,497.93 L540.48,493.06 L541.92,488.17 L543.36,483.27 L544.8,478.38 L546.24,473.52 L547.68,468.71 L549.12,463.96 L550.56,459.29 L552,454.72 L553.44,450.27 L554.88,445.97 L556.32,441.82 L557.76,437.85 L559.2,434.07 L560.64,430.51 L562.08,427.18 L563.52,424.09 L564.96,421.26 L566.4,418.71 L567.84,416.45 L569.28,414.49 L570.72,412.83 L572.16,411.49 L573.6,410.48 L575.04,409.79 L576.48,409.44 L577.93,409.42 L579.37,409.73 L580.81,410.38 L582.25,411.36 L583.69,412.66 L585.13,414.29 L586.57,416.22 L588.01,418.45 L589.45,420.97 L590.89,423.76 L592.33,426.82 L593.77,430.12 L595.21,433.66 L596.65,437.41 L598.09,441.36 L599.53,445.49 L600.97,449.78 L602.41,454.22 L603.85,458.77 L605.29,463.43 L606.73,468.17 L608.17,472.98 L609.61,477.84 L611.05,482.73 L612.49,487.62 L613.93,492.51 L615.37,497.38 L616.81,502.22 L618.26,507 L619.7,511.72 L621.14,516.35 L622.58,520.9 L624.02,525.35 L625.46,529.69 L626.9,533.91 L628.34,538.01 L629.78,541.97 L631.22,545.8 L632.66,549.48 L634.1,553.02 L635.54,556.42 L636.98,559.66 L638.42,562.76 L639.86,565.7 L641.3,568.5 L642.74,571.15 L644.18,573.66 L645.62,576.02 L647.06,578.25 L648.5,580.34 L649.94,582.3 L651.38,584.13 L652.82,585.84 L654.26,587.43 L655.7,588.92 L657.14,590.29 L658.58,591.56 L660.03,592.73 L661.47,593.82 L662.91,594.81 L664.35,595.73 L665.79,596.56 L667.23,597.33 L668.67,598.03 L670.11,598.67 L671.55,599.25 L672.99,599.77 L674.43,600.25 L675.87,600.68 L677.31,601.07 L678.75,601.42 L680.19,601.73 L681.63,602.01 L683.07,602.26 L684.51,602.49 L685.95,602.69 L687.39,602.87 L688.83,603.03 L690.27,603.17 L691.71,603.29 L693.15,603.4 L694.59,603.5 L696.03,603.59 L697.47,603.66 L698.91,603.73 L700.36,603.78 L701.8,603.83 L703.24,603.88 L704.68,603.92 L706.12,603.95 L707.56,603.98 L709,604 L710.44,604.02 L711.88,604.04 L713.32,604.06 L714.76,604.07" class="ml"/><rect x="415.1" y="340.5" width="311.25" height="273.8" class="bx"/><line x1="436.88" y1="614.3" x2="436.88" y2="618.8" class="tk"/><text x="436.88" y="630.9" class="tl" text-anchor="middle">-0.005</text><line x1="496.1" y1="614.3" x2="496.1" y2="618.8" class="tk"/><text x="496.1" y="630.9" class="tl" text-anchor="middle">0.000</text><line x1="555.33" y1="614.3" x2="555.33" y2="618.8" class="tk"/><text x="555.33" y="630.9" class="tl" text-anchor="middle">0.005</text><line x1="614.55" y1="614.3" x2="614.55" y2="618.8" class="tk"/><text x="614.55" y="630.9" class="tl" text-anchor="middle">0.010</text><line x1="673.77" y1="614.3" x2="673.77" y2="618.8" class="tk"/><text x="673.77" y="630.9" class="tl" text-anchor="middle">0.015</text><line x1="410.6" y1="604.15" x2="415.1" y2="604.15" class="tk"/><text transform="translate(404.5,604.15) rotate(-90)" class="tl" text-anchor="middle">0</text><line x1="410.6" y1="532.56" x2="415.1" y2="532.56" class="tk"/><text transform="translate(404.5,532.56) rotate(-90)" class="tl" text-anchor="middle">50</text><line x1="410.6" y1="460.98" x2="415.1" y2="460.98" class="tk"/><text transform="translate(404.5,460.98) rotate(-90)" class="tl" text-anchor="middle">100</text><line x1="410.6" y1="389.39" x2="415.1" y2="389.39" class="tk"/><text transform="translate(404.5,389.39) rotate(-90)" class="tl" text-anchor="middle">150</text><text x="570.73" y="648.8" class="al" text-anchor="middle">chol</text><text transform="translate(386.2,477.4) rotate(-90)" class="al" text-anchor="middle">Density</text><line x1="661.45" y1="351" x2="663.85" y2="351" class="lpr"/><line x1="666.85" y1="351" x2="669.25" y2="351" class="lpr"/><line x1="672.25" y1="351" x2="674.65" y2="351" class="lpr"/><text x="687.05" y="354.9" class="lg">Prior</text><line x1="661.55" y1="361.85" x2="678.85" y2="361.85" class="lpo"/><text x="687.05" y="365.8" class="lg">Posterior</text><line x1="661.55" y1="372.7" x2="678.85" y2="372.7" class="lml"/><text x="687.05" y="376.7" class="lg">MLE</text></g><g><line x1="50.42" y1="679.5" x2="50.42" y2="953.3" class="gr"/><line x1="107.99" y1="679.5" x2="107.99" y2="953.3" class="gr"/><line x1="165.56" y1="679.5" x2="165.56" y2="953.3" class="gr"/><line x1="223.13" y1="679.5" x2="223.13" y2="953.3" class="gr"/><line x1="280.7" y1="679.5" x2="280.7" y2="953.3" class="gr"/><line x1="338.27" y1="679.5" x2="338.27" y2="953.3" class="gr"/><line x1="38.7" y1="943.2" x2="350.3" y2="943.2" class="gr"/><line x1="38.7" y1="906.12" x2="350.3" y2="906.12" class="gr"/><line x1="38.7" y1="869.04" x2="350.3" y2="869.04" class="gr"/><line x1="38.7" y1="831.96" x2="350.3" y2="831.96" class="gr"/><line x1="38.7" y1="794.88" x2="350.3" y2="794.88" class="gr"/><line x1="38.7" y1="757.8" x2="350.3" y2="757.8" class="gr"/><line x1="38.7" y1="720.72" x2="350.3" y2="720.72" class="gr"/><line x1="38.7" y1="683.64" x2="350.3" y2="683.64" class="gr"/><path d="M50.42,943.04 L51.86,943.02 L53.3,943.01 L54.74,942.99 L56.18,942.97 L57.62,942.95 L59.06,942.93 L60.49,942.91 L61.93,942.88 L63.37,942.85 L64.81,942.82 L66.25,942.79 L67.69,942.76 L69.13,942.72 L70.57,942.68 L72.01,942.64 L73.45,942.59 L74.89,942.55 L76.33,942.49 L77.77,942.44 L79.2,942.38 L80.64,942.31 L82.08,942.25 L83.52,942.17 L84.96,942.1 L86.4,942.01 L87.84,941.93 L89.28,941.83 L90.72,941.73 L92.16,941.63 L93.6,941.51 L95.04,941.39 L96.48,941.27 L97.92,941.13 L99.35,940.99 L100.79,940.84 L102.23,940.68 L103.67,940.51 L105.11,940.34 L106.55,940.15 L107.99,939.95 L109.43,939.74 L110.87,939.52 L112.31,939.29 L113.75,939.05 L115.19,938.79 L116.63,938.52 L118.06,938.24 L119.5,937.95 L120.94,937.64 L122.38,937.32 L123.82,936.98 L125.26,936.62 L126.7,936.25 L128.14,935.87 L129.58,935.46 L131.02,935.05 L132.46,934.61 L133.9,934.15 L135.34,933.68 L136.77,933.19 L138.21,932.68 L139.65,932.15 L141.09,931.6 L142.53,931.03 L143.97,930.45 L145.41,929.84 L146.85,929.21 L148.29,928.56 L149.73,927.89 L151.17,927.2 L152.61,926.49 L154.05,925.76 L155.49,925.01 L156.92,924.24 L158.36,923.45 L159.8,922.64 L161.24,921.8 L162.68,920.95 L164.12,920.08 L165.56,919.19 L167,918.28 L168.44,917.35 L169.88,916.4 L171.32,915.44 L172.76,914.46 L174.2,913.46 L175.63,912.45 L177.07,911.43 L178.51,910.39 L179.95,909.34 L181.39,908.27 L182.83,907.2 L184.27,906.11 L185.71,905.02 L187.15,903.92 L188.59,902.81 L190.03,901.7 L191.47,900.58 L192.91,899.46 L194.34,898.34 L195.78,897.22 L197.22,896.1 L198.66,894.98 L200.1,893.87 L201.54,892.76 L202.98,891.66 L204.42,890.57 L205.86,889.49 L207.3,888.42 L208.74,887.37 L210.18,886.33 L211.62,885.31 L213.06,884.3 L214.49,883.32 L215.93,882.36 L217.37,881.42 L218.81,880.51 L220.25,879.62 L221.69,878.76 L223.13,877.93 L224.57,877.13 L226.01,876.36 L227.45,875.62 L228.89,874.92 L230.33,874.26 L231.77,873.63 L233.2,873.04 L234.64,872.49 L236.08,871.98 L237.52,871.51 L238.96,871.08 L240.4,870.7 L241.84,870.36 L243.28,870.06 L244.72,869.81 L246.16,869.6 L247.6,869.44 L249.04,869.33 L250.48,869.26 L251.91,869.24 L253.35,869.26 L254.79,869.33 L256.23,869.44 L257.67,869.6 L259.11,869.81 L260.55,870.06 L261.99,870.36 L263.43,870.7 L264.87,871.08 L266.31,871.51 L267.75,871.98 L269.19,872.49 L270.63,873.04 L272.06,873.63 L273.5,874.26 L274.94,874.92 L276.38,875.62 L277.82,876.36 L279.26,877.13 L280.7,877.93 L282.14,878.76 L283.58,879.62 L285.02,880.51 L286.46,881.42 L287.9,882.36 L289.34,883.32 L290.77,884.3 L292.21,885.31 L293.65,886.33 L295.09,887.37 L296.53,888.42 L297.97,889.49 L299.41,890.57 L300.85,891.66 L302.29,892.76 L303.73,893.87 L305.17,894.98 L306.61,896.1 L308.05,897.22 L309.48,898.34 L310.92,899.46 L312.36,900.58 L313.8,901.7 L315.24,902.81 L316.68,903.92 L318.12,905.02 L319.56,906.11 L321,907.2 L322.44,908.27 L323.88,909.34 L325.32,910.39 L326.76,911.43 L328.2,912.45 L329.63,913.46 L331.07,914.46 L332.51,915.44 L333.95,916.4 L335.39,917.35 L336.83,918.28 L338.27,919.19" class="pr"/><path d="M98.8,943.18 L109.79,942.99 L122.46,941.42 L137.86,929.08 L145.24,912.24 L151.59,888.57 L158.91,850.24 L163.85,819.69 L167.77,794.9 L171.14,774.87 L174.16,759.02 L176.97,746.99 L179.63,738.55 L182.2,733.54 L184.73,731.87 L187.26,733.54 L189.84,738.55 L192.49,746.99 L195.3,759.02 L198.32,774.87 L201.69,794.9 L205.61,819.69 L210.55,850.24 L217.87,888.57 L224.22,912.24 L231.61,929.08 L247,941.42 L259.67,942.99 L270.67,943.18" class="po"/><path d="M50.42,943.2 L51.86,943.2 L53.3,943.2 L54.74,943.2 L56.18,943.2 L57.62,943.2 L59.06,943.2 L60.49,943.2 L61.93,943.2 L63.37,943.2 L64.81,943.2 L66.25,943.2 L67.69,943.19 L69.13,943.19 L70.57,943.19 L72.01,943.19 L73.45,943.18 L74.89,943.18 L76.33,943.17 L77.77,943.16 L79.2,943.15 L80.64,943.14 L82.08,943.12 L83.52,943.1 L84.96,943.07 L86.4,943.03 L87.84,942.99 L89.28,942.94 L90.72,942.87 L92.16,942.79 L93.6,942.69 L95.04,942.57 L96.48,942.42 L97.92,942.24 L99.35,942.03 L100.79,941.78 L102.23,941.48 L103.67,941.12 L105.11,940.69 L106.55,940.2 L107.99,939.61 L109.43,938.94 L110.87,938.15 L112.31,937.24 L113.75,936.2 L115.19,935 L116.63,933.64 L118.06,932.09 L119.5,930.35 L120.94,928.38 L122.38,926.19 L123.82,923.74 L125.26,921.03 L126.7,918.04 L128.14,914.76 L129.58,911.18 L131.02,907.28 L132.46,903.07 L133.9,898.53 L135.34,893.68 L136.77,888.51 L138.21,883.04 L139.65,877.27 L141.09,871.24 L142.53,864.96 L143.97,858.46 L145.41,851.78 L146.85,844.95 L148.29,838.02 L149.73,831.05 L151.17,824.07 L152.61,817.15 L154.05,810.35 L155.49,803.73 L156.92,797.34 L158.36,791.26 L159.8,785.54 L161.24,780.23 L162.68,775.4 L164.12,771.1 L165.56,767.38 L167,764.27 L168.44,761.82 L169.88,760.04 L171.32,758.97 L172.76,758.61 L174.2,758.97 L175.63,760.04 L177.07,761.82 L178.51,764.27 L179.95,767.38 L181.39,771.1 L182.83,775.4 L184.27,780.23 L185.71,785.54 L187.15,791.26 L188.59,797.34 L190.03,803.73 L191.47,810.35 L192.91,817.15 L194.34,824.07 L195.78,831.05 L197.22,838.02 L198.66,844.95 L200.1,851.78 L201.54,858.46 L202.98,864.96 L204.42,871.24 L205.86,877.27 L207.3,883.04 L208.74,888.51 L210.18,893.68 L211.62,898.53 L213.06,903.07 L214.49,907.28 L215.93,911.18 L217.37,914.76 L218.81,918.04 L220.25,921.03 L221.69,923.74 L223.13,926.19 L224.57,928.38 L226.01,930.35 L227.45,932.09 L228.89,933.64 L230.33,935 L231.77,936.2 L233.2,937.24 L234.64,938.15 L236.08,938.94 L237.52,939.61 L238.96,940.2 L240.4,940.69 L241.84,941.12 L243.28,941.48 L244.72,941.78 L246.16,942.03 L247.6,942.24 L249.04,942.42 L250.48,942.57 L251.91,942.69 L253.35,942.79 L254.79,942.87 L256.23,942.94 L257.67,942.99 L259.11,943.03 L260.55,943.07 L261.99,943.1 L263.43,943.12 L264.87,943.14 L266.31,943.15 L267.75,943.16 L269.19,943.17 L270.63,943.18 L272.06,943.18 L273.5,943.19 L274.94,943.19 L276.38,943.19 L277.82,943.19 L279.26,943.2 L280.7,943.2 L282.14,943.2 L283.58,943.2 L285.02,943.2 L286.46,943.2 L287.9,943.2 L289.34,943.2 L290.77,943.2 L292.21,943.2 L293.65,943.2 L295.09,943.2 L296.53,943.2 L297.97,943.2 L299.41,943.2 L300.85,943.2 L302.29,943.2 L303.73,943.2 L305.17,943.2 L306.61,943.2 L308.05,943.2 L309.48,943.2 L310.92,943.2 L312.36,943.2 L313.8,943.2 L315.24,943.2 L316.68,943.2 L318.12,943.2 L319.56,943.2 L321,943.2 L322.44,943.2 L323.88,943.2 L325.32,943.2 L326.76,943.2 L328.2,943.2 L329.63,943.2 L331.07,943.2 L332.51,943.2 L333.95,943.2 L335.39,943.2 L336.83,943.2 L338.27,943.2" class="ml"/><rect x="38.7" y="679.5" width="311.6" height="273.8" class="bx"/><line x1="50.42" y1="953.3" x2="50.42" y2="957.8" class="tk"/><text x="50.42" y="969.9" class="tl" text-anchor="middle">-0.08</text><line x1="107.99" y1="953.3" x2="107.99" y2="957.8" class="tk"/><text x="107.99" y="969.9" class="tl" text-anchor="middle">-0.06</text><line x1="165.56" y1="953.3" x2="165.56" y2="957.8" class="tk"/><text x="165.56" y="969.9" class="tl" text-anchor="middle">-0.04</text><line x1="223.13" y1="953.3" x2="223.13" y2="957.8" class="tk"/><text x="223.13" y="969.9" class="tl" text-anchor="middle">-0.02</text><line x1="280.7" y1="953.3" x2="280.7" y2="957.8" class="tk"/><text x="280.7" y="969.9" class="tl" text-anchor="middle">0.00</text><line x1="338.27" y1="953.3" x2="338.27" y2="957.8" class="tk"/><text x="338.27" y="969.9" class="tl" text-anchor="middle">0.02</text><line x1="34.2" y1="943.2" x2="38.7" y2="943.2" class="tk"/><text transform="translate(28.1,943.2) rotate(-90)" class="tl" text-anchor="middle">0</text><line x1="34.2" y1="906.12" x2="38.7" y2="906.12" class="tk"/><text transform="translate(28.1,906.12) rotate(-90)" class="tl" text-anchor="middle">10</text><line x1="34.2" y1="869.04" x2="38.7" y2="869.04" class="tk"/><text transform="translate(28.1,869.04) rotate(-90)" class="tl" text-anchor="middle">20</text><line x1="34.2" y1="831.96" x2="38.7" y2="831.96" class="tk"/><text transform="translate(28.1,831.96) rotate(-90)" class="tl" text-anchor="middle">30</text><line x1="34.2" y1="794.88" x2="38.7" y2="794.88" class="tk"/><text transform="translate(28.1,794.88) rotate(-90)" class="tl" text-anchor="middle">40</text><line x1="34.2" y1="757.8" x2="38.7" y2="757.8" class="tk"/><text transform="translate(28.1,757.8) rotate(-90)" class="tl" text-anchor="middle">50</text><line x1="34.2" y1="720.72" x2="38.7" y2="720.72" class="tk"/><text transform="translate(28.1,720.72) rotate(-90)" class="tl" text-anchor="middle">60</text><line x1="34.2" y1="683.64" x2="38.7" y2="683.64" class="tk"/><text transform="translate(28.1,683.64) rotate(-90)" class="tl" text-anchor="middle">70</text><text x="194.5" y="987.8" class="al" text-anchor="middle">thalach</text><text transform="translate(9.8,816.4) rotate(-90)" class="al" text-anchor="middle">Density</text><line x1="285.4" y1="690" x2="287.8" y2="690" class="lpr"/><line x1="290.8" y1="690" x2="293.2" y2="690" class="lpr"/><line x1="296.2" y1="690" x2="298.6" y2="690" class="lpr"/><text x="311" y="693.9" class="lg">Prior</text><line x1="285.5" y1="700.85" x2="302.8" y2="700.85" class="lpo"/><text x="311" y="704.8" class="lg">Posterior</text><line x1="285.5" y1="711.7" x2="302.8" y2="711.7" class="lml"/><text x="311" y="715.7" class="lg">MLE</text></g><g><line x1="463.88" y1="679.5" x2="463.88" y2="953.3" class="gr"/><line x1="513.56" y1="679.5" x2="513.56" y2="953.3" class="gr"/><line x1="563.24" y1="679.5" x2="563.24" y2="953.3" class="gr"/><line x1="612.92" y1="679.5" x2="612.92" y2="953.3" class="gr"/><line x1="662.6" y1="679.5" x2="662.6" y2="953.3" class="gr"/><line x1="712.28" y1="679.5" x2="712.28" y2="953.3" class="gr"/><line x1="415.1" y1="943.2" x2="726.35" y2="943.2" class="gr"/><line x1="415.1" y1="872.78" x2="726.35" y2="872.78" class="gr"/><line x1="415.1" y1="802.37" x2="726.35" y2="802.37" class="gr"/><line x1="415.1" y1="731.95" x2="726.35" y2="731.95" class="gr"/><path d="M426.62,885.43 L428.06,884.91 L429.5,884.4 L430.94,883.89 L432.38,883.4 L433.82,882.91 L435.26,882.43 L436.71,881.96 L438.15,881.5 L439.59,881.05 L441.03,880.61 L442.47,880.18 L443.91,879.76 L445.35,879.35 L446.79,878.95 L448.23,878.56 L449.67,878.19 L451.11,877.82 L452.55,877.47 L453.99,877.13 L455.43,876.8 L456.88,876.49 L458.32,876.18 L459.76,875.89 L461.2,875.61 L462.64,875.35 L464.08,875.1 L465.52,874.86 L466.96,874.63 L468.4,874.42 L469.84,874.23 L471.28,874.04 L472.72,873.87 L474.16,873.72 L475.6,873.58 L477.05,873.45 L478.49,873.34 L479.93,873.24 L481.37,873.16 L482.81,873.09 L484.25,873.04 L485.69,873 L487.13,872.98 L488.57,872.97 L490.01,872.98 L491.45,873 L492.89,873.03 L494.33,873.08 L495.77,873.15 L497.22,873.23 L498.66,873.32 L500.1,873.43 L501.54,873.55 L502.98,873.69 L504.42,873.84 L505.86,874.01 L507.3,874.19 L508.74,874.38 L510.18,874.59 L511.62,874.81 L513.06,875.05 L514.5,875.29 L515.94,875.56 L517.39,875.83 L518.83,876.12 L520.27,876.42 L521.71,876.74 L523.15,877.06 L524.59,877.4 L526.03,877.75 L527.47,878.11 L528.91,878.49 L530.35,878.87 L531.79,879.27 L533.23,879.67 L534.67,880.09 L536.11,880.52 L537.56,880.96 L539,881.41 L540.44,881.87 L541.88,882.33 L543.32,882.81 L544.76,883.3 L546.2,883.79 L547.64,884.29 L549.08,884.8 L550.52,885.32 L551.96,885.85 L553.4,886.38 L554.84,886.92 L556.28,887.47 L557.73,888.02 L559.17,888.58 L560.61,889.14 L562.05,889.71 L563.49,890.29 L564.93,890.87 L566.37,891.45 L567.81,892.04 L569.25,892.63 L570.69,893.23 L572.13,893.83 L573.57,894.43 L575.01,895.03 L576.45,895.64 L577.9,896.25 L579.34,896.86 L580.78,897.48 L582.22,898.09 L583.66,898.71 L585.1,899.33 L586.54,899.94 L587.98,900.56 L589.42,901.18 L590.86,901.8 L592.3,902.41 L593.74,903.03 L595.18,903.64 L596.62,904.26 L598.07,904.87 L599.51,905.48 L600.95,906.09 L602.39,906.7 L603.83,907.3 L605.27,907.9 L606.71,908.5 L608.15,909.1 L609.59,909.69 L611.03,910.28 L612.47,910.86 L613.91,911.45 L615.35,912.03 L616.8,912.6 L618.24,913.17 L619.68,913.73 L621.12,914.3 L622.56,914.85 L624,915.4 L625.44,915.95 L626.88,916.49 L628.32,917.03 L629.76,917.56 L631.2,918.08 L632.64,918.6 L634.08,919.11 L635.52,919.62 L636.97,920.12 L638.41,920.62 L639.85,921.11 L641.29,921.6 L642.73,922.07 L644.17,922.55 L645.61,923.01 L647.05,923.47 L648.49,923.92 L649.93,924.37 L651.37,924.81 L652.81,925.24 L654.25,925.67 L655.69,926.09 L657.14,926.5 L658.58,926.91 L660.02,927.31 L661.46,927.7 L662.9,928.09 L664.34,928.47 L665.78,928.85 L667.22,929.21 L668.66,929.57 L670.1,929.93 L671.54,930.28 L672.98,930.62 L674.42,930.95 L675.86,931.28 L677.31,931.6 L678.75,931.92 L680.19,932.23 L681.63,932.53 L683.07,932.83 L684.51,933.12 L685.95,933.41 L687.39,933.69 L688.83,933.96 L690.27,934.23 L691.71,934.49 L693.15,934.74 L694.59,934.99 L696.03,935.24 L697.48,935.47 L698.92,935.71 L700.36,935.93 L701.8,936.15 L703.24,936.37 L704.68,936.58 L706.12,936.79 L707.56,936.99 L709,937.19 L710.44,937.38 L711.88,937.56 L713.32,937.74 L714.76,937.92" class="pr"/><path d="M427.61,943.18 L445.65,942.99 L466.42,941.42 L491.66,929.09 L503.77,912.26 L514.18,888.6 L526.19,850.3 L534.28,819.77 L540.72,795 L546.24,774.98 L551.2,759.14 L555.8,747.12 L560.16,738.68 L564.38,733.67 L568.53,732.01 L572.68,733.67 L576.9,738.68 L581.26,747.12 L585.86,759.14 L590.82,774.98 L596.34,795 L602.78,819.77 L610.88,850.3 L622.88,888.6 L633.29,912.26 L645.4,929.09 L670.64,941.42 L691.42,942.99 L709.45,943.18" class="po"/><path d="M426.62,943.13 L428.06,943.12 L429.5,943.11 L430.94,943.09 L432.38,943.07 L433.82,943.05 L435.26,943.03 L436.71,943 L438.15,942.97 L439.59,942.94 L441.03,942.9 L442.47,942.85 L443.91,942.8 L445.35,942.74 L446.79,942.67 L448.23,942.59 L449.67,942.5 L451.11,942.4 L452.55,942.29 L453.99,942.16 L455.43,942.02 L456.88,941.86 L458.32,941.69 L459.76,941.49 L461.2,941.27 L462.64,941.02 L464.08,940.74 L465.52,940.44 L466.96,940.1 L468.4,939.73 L469.84,939.32 L471.28,938.86 L472.72,938.36 L474.16,937.81 L475.6,937.21 L477.05,936.56 L478.49,935.84 L479.93,935.05 L481.37,934.2 L482.81,933.28 L484.25,932.27 L485.69,931.19 L487.13,930.01 L488.57,928.75 L490.01,927.39 L491.45,925.93 L492.89,924.36 L494.33,922.69 L495.77,920.9 L497.22,918.99 L498.66,916.96 L500.1,914.81 L501.54,912.53 L502.98,910.12 L504.42,907.57 L505.86,904.9 L507.3,902.08 L508.74,899.13 L510.18,896.04 L511.62,892.82 L513.06,889.46 L514.5,885.97 L515.94,882.34 L517.39,878.6 L518.83,874.72 L520.27,870.74 L521.71,866.64 L523.15,862.44 L524.59,858.14 L526.03,853.76 L527.47,849.3 L528.91,844.77 L530.35,840.19 L531.79,835.57 L533.23,830.92 L534.67,826.26 L536.11,821.59 L537.56,816.94 L539,812.32 L540.44,807.74 L541.88,803.23 L543.32,798.8 L544.76,794.46 L546.2,790.24 L547.64,786.14 L549.08,782.2 L550.52,778.41 L551.96,774.81 L553.4,771.4 L554.84,768.19 L556.28,765.22 L557.73,762.47 L559.17,759.98 L560.61,757.75 L562.05,755.79 L563.49,754.11 L564.93,752.71 L566.37,751.61 L567.81,750.81 L569.25,750.32 L570.69,750.13 L572.13,750.24 L573.57,750.67 L575.01,751.39 L576.45,752.42 L577.9,753.74 L579.34,755.36 L580.78,757.25 L582.22,759.42 L583.66,761.85 L585.1,764.53 L586.54,767.45 L587.98,770.6 L589.42,773.97 L590.86,777.53 L592.3,781.27 L593.74,785.18 L595.18,789.24 L596.62,793.43 L598.07,797.74 L599.51,802.15 L600.95,806.65 L602.39,811.21 L603.83,815.82 L605.27,820.46 L606.71,825.13 L608.15,829.8 L609.59,834.45 L611.03,839.08 L612.47,843.67 L613.91,848.21 L615.35,852.69 L616.8,857.09 L618.24,861.41 L619.68,865.63 L621.12,869.76 L622.56,873.77 L624,877.67 L625.44,881.45 L626.88,885.1 L628.32,888.63 L629.76,892.02 L631.2,895.28 L632.64,898.4 L634.08,901.38 L635.52,904.23 L636.97,906.94 L638.41,909.52 L639.85,911.96 L641.29,914.27 L642.73,916.45 L644.17,918.51 L645.61,920.45 L647.05,922.26 L648.49,923.97 L649.93,925.56 L651.37,927.05 L652.81,928.43 L654.25,929.72 L655.69,930.91 L657.14,932.02 L658.58,933.04 L660.02,933.98 L661.46,934.85 L662.9,935.65 L664.34,936.39 L665.78,937.06 L667.22,937.67 L668.66,938.24 L670.1,938.75 L671.54,939.21 L672.98,939.63 L674.42,940.02 L675.86,940.36 L677.31,940.67 L678.75,940.96 L680.19,941.21 L681.63,941.44 L683.07,941.64 L684.51,941.82 L685.95,941.99 L687.39,942.13 L688.83,942.26 L690.27,942.38 L691.71,942.48 L693.15,942.57 L694.59,942.65 L696.03,942.72 L697.48,942.78 L698.92,942.84 L700.36,942.89 L701.8,942.93 L703.24,942.96 L704.68,943 L706.12,943.02 L707.56,943.05 L709,943.07 L710.44,943.09 L711.88,943.1 L713.32,943.12 L714.76,943.13" class="ml"/><rect x="415.1" y="679.5" width="311.25" height="273.8" class="bx"/><line x1="463.88" y1="953.3" x2="463.88" y2="957.8" class="tk"/><text x="463.88" y="969.9" class="tl" text-anchor="middle">0.2</text><line x1="513.56" y1="953.3" x2="513.56" y2="957.8" class="tk"/><text x="513.56" y="969.9" class="tl" text-anchor="middle">0.4</text><line x1="563.24" y1="953.3" x2="563.24" y2="957.8" class="tk"/><text x="563.24" y="969.9" class="tl" text-anchor="middle">0.6</text><line x1="612.92" y1="953.3" x2="612.92" y2="957.8" class="tk"/><text x="612.92" y="969.9" class="tl" text-anchor="middle">0.8</text><line x1="662.6" y1="953.3" x2="662.6" y2="957.8" class="tk"/><text x="662.6" y="969.9" class="tl" text-anchor="middle">1.0</text><line x1="712.28" y1="953.3" x2="712.28" y2="957.8" class="tk"/><text x="712.28" y="969.9" class="tl" text-anchor="middle">1.2</text><line x1="410.6" y1="943.2" x2="415.1" y2="943.2" class="tk"/><text transform="translate(404.5,943.2) rotate(-90)" class="tl" text-anchor="middle">0</text><line x1="410.6" y1="872.78" x2="415.1" y2="872.78" class="tk"/><text transform="translate(404.5,872.78) rotate(-90)" class="tl" text-anchor="middle">1</text><line x1="410.6" y1="802.37" x2="415.1" y2="802.37" class="tk"/><text transform="translate(404.5,802.37) rotate(-90)" class="tl" text-anchor="middle">2</text><line x1="410.6" y1="731.95" x2="415.1" y2="731.95" class="tk"/><text transform="translate(404.5,731.95) rotate(-90)" class="tl" text-anchor="middle">3</text><text x="570.73" y="987.8" class="al" text-anchor="middle">oldpeak</text><text transform="translate(386.2,816.4) rotate(-90)" class="al" text-anchor="middle">Density</text><line x1="661.45" y1="690" x2="663.85" y2="690" class="lpr"/><line x1="666.85" y1="690" x2="669.25" y2="690" class="lpr"/><line x1="672.25" y1="690" x2="674.65" y2="690" class="lpr"/><text x="687.05" y="693.9" class="lg">Prior</text><line x1="661.55" y1="700.85" x2="678.85" y2="700.85" class="lpo"/><text x="687.05" y="704.8" class="lg">Posterior</text><line x1="661.55" y1="711.7" x2="678.85" y2="711.7" class="lml"/><text x="687.05" y="715.7" class="lg">MLE</text></g></svg></body></html>
